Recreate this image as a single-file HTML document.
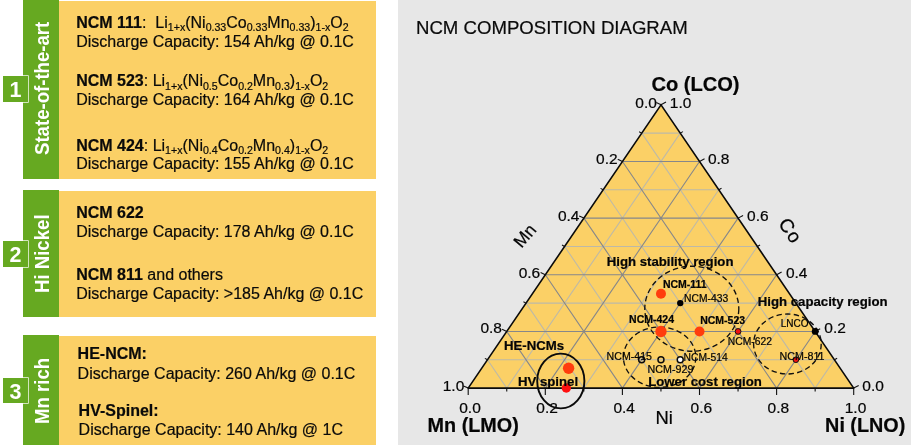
<!DOCTYPE html>
<html><head><meta charset="utf-8"><title>NCM composition diagram</title>
<style>
html,body{margin:0;padding:0;background:#fff}
body{width:911px;height:445px;position:relative;overflow:hidden;font-family:"Liberation Sans",Arial,sans-serif;color:#0a0a0a}
.g{position:absolute;left:23px;width:36px;background:#66a921}
.y{position:absolute;left:59px;width:317px;background:#fbd066}
.r{position:absolute;left:398px;top:0;width:513px;height:445px;background:#e7e7e7}
.ln{position:absolute;white-space:nowrap;line-height:0;height:0;-webkit-text-stroke:0.2px #0a0a0a}
.ln sub{font-size:10.6px;vertical-align:baseline;position:relative;top:3.1px;line-height:0}
.v{position:absolute;color:#fff;font-weight:bold;font-size:18.6px;white-space:nowrap;line-height:0;height:0;transform-origin:0 0;transform:rotate(-90deg) scaleY(1.06)}
.n{position:absolute;left:2.9px;width:25.2px;height:25.3px;background:#66a921;box-shadow:0 0 0 0.7px #fff;color:#fff;font-weight:bold;font-size:21.5px;text-align:center;line-height:28.2px}
svg{position:absolute;left:0;top:0}
svg text{font-family:"Liberation Sans",Arial,sans-serif;fill:#050505;stroke:#050505;stroke-width:0.22px}
.t{position:absolute;left:416px;top:28.2px;font-size:18.6px;line-height:0;white-space:nowrap;-webkit-text-stroke:0.2px #0a0a0a}
</style></head><body>
<div class="r"></div>
<div class="g" style="top:0;height:179px"></div><div class="y" style="top:1px;height:178px"></div>
<div class="g" style="top:190px;height:127px"></div><div class="y" style="top:191px;height:126px"></div>
<div class="g" style="top:335px;height:110px"></div><div class="y" style="top:336px;height:109px"></div>
<div class="v" style="left:43.1px;top:155.2px">State-of-the-art</div>
<div class="v" style="left:43.1px;top:293px">Hi Nickel</div>
<div class="v" style="left:43.1px;top:424px">Mn rich</div>
<div class="n" style="top:76.3px">1</div>
<div class="n" style="top:241.3px">2</div>
<div class="n" style="top:377.5px">3</div>
<div class="ln" style="left:76.2px;top:22.86px;font-size:16px"><b>NCM 111</b>:&nbsp; Li<sub>1+x</sub>(Ni<sub>0.33</sub>Co<sub>0.33</sub>Mn<sub>0.33</sub>)<sub>1-x</sub>O<sub>2</sub></div>
<div class="ln" style="left:76.2px;top:41.86px;font-size:16px">Discharge Capacity: 154 Ah/kg @ 0.1C</div>
<div class="ln" style="left:76.2px;top:81.46px;font-size:16px"><b>NCM 523</b>: Li<sub>1+x</sub>(Ni<sub>0.5</sub>Co<sub>0.2</sub>Mn<sub>0.3</sub>)<sub>1-x</sub>O<sub>2</sub></div>
<div class="ln" style="left:76.2px;top:99.66px;font-size:16px">Discharge Capacity: 164 Ah/kg @ 0.1C</div>
<div class="ln" style="left:76.2px;top:145.66px;font-size:16px"><b>NCM 424</b>: Li<sub>1+x</sub>(Ni<sub>0.4</sub>Co<sub>0.2</sub>Mn<sub>0.4</sub>)<sub>1-x</sub>O<sub>2</sub></div>
<div class="ln" style="left:76.2px;top:163.86px;font-size:16px">Discharge Capacity: 155 Ah/kg @ 0.1C</div>
<div class="ln" style="left:76.2px;top:212.96px;font-size:16px"><b>NCM 622</b></div>
<div class="ln" style="left:76.2px;top:231.66px;font-size:16px">Discharge Capacity: 178 Ah/kg @ 0.1C</div>
<div class="ln" style="left:76.2px;top:275.16px;font-size:16px"><b>NCM 811</b> and others</div>
<div class="ln" style="left:76.2px;top:293.86px;font-size:16px">Discharge Capacity: &gt;185 Ah/kg @ 0.1C</div>
<div class="ln" style="left:77.6px;top:354.06px;font-size:16px"><b>HE-NCM:</b></div>
<div class="ln" style="left:77.6px;top:373.76px;font-size:16px">Discharge Capacity: 260 Ah/kg @ 0.1C</div>
<div class="ln" style="left:78.6px;top:411.16px;font-size:16px"><b>HV-Spinel:</b></div>
<div class="ln" style="left:78.6px;top:429.76px;font-size:16px">Discharge Capacity: 140 Ah/kg @ 1C</div>
<div class="t">NCM COMPOSITION DIAGRAM</div>
<svg width="911" height="445" viewBox="0 0 911 445">
<polygon points="468.2,388.1 853.7,388.1 661,104.8" fill="#fbd066"/>
<path d="M487.48,359.77L834.43,359.77M506.75,388.1L680.27,133.13M815.15,388.1L641.72,133.13M526.04,303.11L795.89,303.11M583.85,388.1L718.81,189.79M738.05,388.1L603.16,189.79M564.6,246.45L757.35,246.45M660.95,388.1L757.35,246.45M660.95,388.1L564.6,246.45M603.16,189.79L718.81,189.79M738.05,388.1L795.89,303.11M583.85,388.1L526.04,303.11M641.72,133.13L680.27,133.13M815.15,388.1L834.43,359.77M506.75,388.1L487.48,359.77" stroke="#bdb9a8" stroke-width="1.05" fill="none"/>
<path d="M506.76,331.44L815.16,331.44M545.3,388.1L699.54,161.46M776.6,388.1L622.44,161.46M545.32,274.78L776.62,274.78M622.4,388.1L738.08,218.12M699.5,388.1L583.88,218.12M583.88,218.12L738.08,218.12M699.5,388.1L776.62,274.78M622.4,388.1L545.32,274.78M622.44,161.46L699.54,161.46M776.6,388.1L815.16,331.44M545.3,388.1L506.76,331.44" stroke="#86878a" stroke-width="1.1" fill="none"/>
<path d="M468.2,388.1v7M468.2,388.1l-4.7,-2.2M853.7,388.1l5,-2.7M506.75,388.1v3.5M487.48,359.77l-2.6,-1.4M834.43,359.77l2.7,-1.5M545.3,388.1v7M506.76,331.44l-4.7,-2.2M815.16,331.44l5,-2.7M583.85,388.1v3.5M526.04,303.11l-2.6,-1.4M795.89,303.11l2.7,-1.5M622.4,388.1v7M545.32,274.78l-4.7,-2.2M776.62,274.78l5,-2.7M660.95,388.1v3.5M564.6,246.45l-2.6,-1.4M757.35,246.45l2.7,-1.5M699.5,388.1v7M583.88,218.12l-4.7,-2.2M738.08,218.12l5,-2.7M738.05,388.1v3.5M603.16,189.79l-2.6,-1.4M718.81,189.79l2.7,-1.5M776.6,388.1v7M622.44,161.46l-4.7,-2.2M699.54,161.46l5,-2.7M815.15,388.1v3.5M641.72,133.13l-2.6,-1.4M680.27,133.13l2.7,-1.5M853.7,388.1v7M661,104.8l-4.7,-2.2M661,104.8l5,-2.7" stroke="#111" stroke-width="1.1" fill="none"/>
<path d="M468.2,388.1L661,104.8L853.7,388.1" fill="none" stroke="#0a0a0a" stroke-width="1.6" stroke-linejoin="miter"/>
<path d="M467.6,388.1L854.3,388.1" fill="none" stroke="#0a0a0a" stroke-width="1.9"/>
<text x="656.9" y="107.6" font-size="15.5" text-anchor="end">0.0</text>
<text x="617.6" y="164" font-size="15.5" text-anchor="end">0.2</text>
<text x="579.5" y="220.7" font-size="15.5" text-anchor="end">0.4</text>
<text x="540.2" y="277.5" font-size="15.5" text-anchor="end">0.6</text>
<text x="502" y="333.3" font-size="15.5" text-anchor="end">0.8</text>
<text x="464.3" y="390.5" font-size="15.5" text-anchor="end">1.0</text>
<text x="669.8" y="107.6" font-size="15.5" text-anchor="start">1.0</text>
<text x="707.9" y="164" font-size="15.5" text-anchor="start">0.8</text>
<text x="747.1" y="220.7" font-size="15.5" text-anchor="start">0.6</text>
<text x="785.9" y="277.5" font-size="15.5" text-anchor="start">0.4</text>
<text x="824.3" y="333.3" font-size="15.5" text-anchor="start">0.2</text>
<text x="862.3" y="390.5" font-size="15.5" text-anchor="start">0.0</text>
<text x="470" y="412.8" font-size="15.5" text-anchor="middle">0.0</text>
<text x="547.1" y="412.8" font-size="15.5" text-anchor="middle">0.2</text>
<text x="624.2" y="412.8" font-size="15.5" text-anchor="middle">0.4</text>
<text x="701.3" y="412.8" font-size="15.5" text-anchor="middle">0.6</text>
<text x="778.4" y="412.8" font-size="15.5" text-anchor="middle">0.8</text>
<text x="855.5" y="412.8" font-size="15.5" text-anchor="middle">1.0</text>
<text x="651.4" y="91" font-size="20.1" text-anchor="start" font-weight="bold">Co (LCO)</text>
<text x="427.6" y="432" font-size="19.8" text-anchor="start" font-weight="bold">Mn (LMO)</text>
<text x="825.1" y="432" font-size="19.8" text-anchor="start" font-weight="bold">Ni (LNO)</text>
<text x="655.4" y="423.8" font-size="18.4" text-anchor="start">Ni</text>
<text transform="translate(521.6,248.8) rotate(-50)" font-size="17.5">Mn</text>
<text transform="translate(777.7,223.6) rotate(55.7)" font-size="19" letter-spacing="1">Co</text>
<ellipse cx="691.8" cy="308.7" rx="47" ry="42.5" fill="none" stroke="#111" stroke-width="1.35" stroke-dasharray="5.4 3.3"/>
<ellipse cx="659.6" cy="357.2" rx="36.2" ry="30.2" fill="none" stroke="#111" stroke-width="1.35" stroke-dasharray="5.4 3.3"/>
<ellipse cx="787.4" cy="344" rx="33.8" ry="30" fill="none" stroke="#111" stroke-width="1.35" stroke-dasharray="5.4 3.3"/>
<ellipse cx="560.8" cy="381" rx="23.6" ry="27.4" fill="none" stroke="#0a0a0a" stroke-width="1.9"/>
<circle cx="660.97" cy="293.67" r="5" fill="#ff3d0d"/>
<circle cx="680.24" cy="303.11" r="3.2" fill="#000"/>
<circle cx="660.96" cy="331.44" r="5.7" fill="#ff3d0d"/>
<circle cx="699.51" cy="331.44" r="5" fill="#ff3d0d"/>
<circle cx="738.06" cy="331.44" r="2.9" fill="#f01010" stroke="#111" stroke-width="1"/>
<circle cx="795.88" cy="359.77" r="2.8" fill="#f01010" stroke="#111" stroke-width="1"/>
<circle cx="815.16" cy="331.44" r="3.4" fill="#000"/>
<circle cx="641.68" cy="359.77" r="3" fill="none" stroke="#0a0a0a" stroke-width="1.45"/>
<circle cx="660.96" cy="359.77" r="3" fill="none" stroke="#0a0a0a" stroke-width="1.45"/>
<circle cx="680.23" cy="359.77" r="3" fill="#fff" stroke="#0a0a0a" stroke-width="1.45"/>
<circle cx="568.6" cy="368.3" r="5.7" fill="#ff3d0d"/>
<circle cx="566.3" cy="388" r="4.7" fill="#ff1010"/>
<text x="606.7" y="266" font-size="13.2" text-anchor="start" font-weight="bold">High stability region</text>
<text x="757.8" y="306" font-size="13.2" text-anchor="start" font-weight="bold">High capacity region</text>
<text x="648.2" y="385.6" font-size="13.2" text-anchor="start" font-weight="bold">Lower cost region</text>
<text x="504" y="350" font-size="13.2" text-anchor="start" font-weight="bold">HE-NCMs</text>
<text x="518" y="386" font-size="13.2" text-anchor="start" font-weight="bold">HV spinel</text>
<text x="662.9" y="287.8" font-size="10.5" text-anchor="start" font-weight="bold">NCM-111</text>
<text x="629.1" y="322.7" font-size="10.5" text-anchor="start" font-weight="bold">NCM-424</text>
<text x="700.2" y="324.3" font-size="10.5" text-anchor="start" font-weight="bold">NCM-523</text>
<text x="684.1" y="301.9" font-size="10.3" text-anchor="start">NCM-433</text>
<text x="727.8" y="344.8" font-size="10.3" text-anchor="start">NCM-622</text>
<text x="779.6" y="359.6" font-size="10.7" text-anchor="start">NCM-811</text>
<text x="780.8" y="327" font-size="10" text-anchor="start">LNCO</text>
<text x="606.6" y="360.4" font-size="10.6" text-anchor="start">NCM-415</text>
<text x="683.6" y="360.6" font-size="10.3" text-anchor="start">NCM-514</text>
<text x="647.6" y="372.5" font-size="10.7" text-anchor="start">NCM-929</text>
</svg>
</body></html>
